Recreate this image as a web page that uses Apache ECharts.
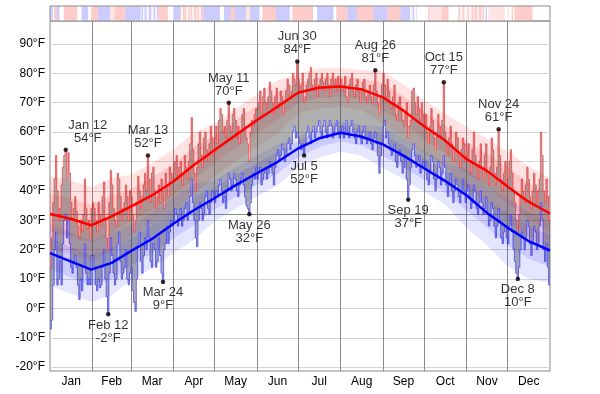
<!DOCTYPE html>
<html><head><meta charset="utf-8">
<script src="https://cdn.jsdelivr.net/npm/echarts@6/dist/echarts.min.js"></script>
<style>html,body{margin:0;padding:0;background:#fff}#c{width:600px;height:394px}</style>
</head><body><div id="c"></div>
<script>
const months = ['Jan','Feb','Mar','Apr','May','Jun','Jul','Aug','Sep','Oct','Nov','Dec'];
const monthStarts = [0,31,59,90,120,151,181,212,243,273,304,334,365];
const monthMids = [15.5,45,74.5,105,135.5,166,196.5,227.5,258,288.5,319,349.5];
const yTicks = [-20,-10,0,10,20,30,40,50,60,70,80,90];
const freezing = 32;

// daily highs / lows (°F)
const highJan = [14,24,36,44,52,40,30,34,42,48,52,54,44,53,46,36,30,34,38,33,28,24,30,26,32,44,34,27,30,24,34];
const lowJan  = [-7,-4,8,20,26,8,10,16,8,22,30,32,24,30,22,14,12,16,18,14,8,3,10,6,14,22,12,8,10,8,18];
const highFeb = [36,34,30,26,36,32,28,38,43,30,24,20,36,47,42,34,30,28,46,44,38,30,34,36,42,38,30,40];
const lowFeb  = [18,14,8,6,10,7,8,14,20,10,4,-2,12,24,18,12,8,10,22,26,16,10,12,14,20,10,8,12];
const highMar = [38,32,26,30,36,45,40,34,38,42,46,40,52,44,36,46,48,40,34,38,42,36,44,40,34,46,42,38,48,46,44];
const lowMar  = [14,6,2,-1,10,22,26,16,12,18,24,20,30,24,16,14,22,20,14,16,24,18,12,9,20,22,28,22,26,30,28];
const highApr = [46,50,52,44,48,50,42,46,52,48,44,50,56,65,54,46,40,48,56,60,52,48,58,60,54,50,56,62,58,52];
const lowApr  = [30,34,32,28,30,34,28,30,34,36,30,32,38,44,36,30,24,21,30,36,34,30,32,38,40,34,32,36,40,38];
const highMay = [58,62,56,64,68,66,60,62,58,64,70,62,60,66,68,64,58,62,56,60,66,68,62,58,56,50,60,64,62,66,68];
const lowMay  = [36,40,38,42,44,40,36,38,34,40,46,44,40,42,46,44,40,38,42,44,46,42,38,35,34,32,36,42,46,44,48];
const highJun = [68,70,74,66,72,75,70,68,72,77,74,70,66,72,75,68,70,74,72,66,70,74,78,76,72,74,80,78,76,84];
const lowJun  = [44,46,48,42,44,46,48,44,46,50,48,46,42,48,52,54,50,52,56,54,50,52,56,58,54,56,60,62,58,60];
const highJul = [78,74,76,80,70,72,76,78,80,82,76,74,78,80,72,76,78,80,77,74,78,80,76,72,78,80,76,78,74,79,76];
const lowJul  = [58,56,54,56,52,56,60,62,58,56,60,62,58,60,62,64,60,58,62,64,60,58,62,64,62,58,60,62,64,60,58];
const highAug = [78,74,76,79,72,70,76,78,80,74,72,76,78,74,70,74,77,78,72,70,74,76,72,70,76,81,74,70,66,72,76];
const lowAug  = [60,62,58,60,64,60,58,62,64,60,58,56,60,62,58,56,60,62,58,56,58,60,56,54,58,60,56,52,46,52,56];
const highSep = [80,76,72,78,74,70,68,72,76,66,64,70,72,68,64,62,66,70,58,62,64,74,75,70,66,72,68,64,70,66];
const lowSep  = [62,64,58,60,56,54,52,54,56,50,48,52,54,50,46,48,52,44,37,42,48,54,56,52,48,50,52,46,48,50];
const highOct = [62,66,60,56,62,68,64,58,54,60,66,62,58,64,77,60,56,52,58,62,56,50,54,60,58,52,48,54,58,56,50];
const lowOct  = [48,50,44,42,46,52,50,44,40,44,50,48,42,46,52,48,42,38,42,46,40,36,40,44,42,38,36,40,44,40,36];
const highNov = [52,56,50,46,54,60,52,48,44,50,56,48,44,52,56,46,42,48,58,54,46,42,48,61,52,44,40,46,50,42];
const lowNov  = [40,42,38,34,36,42,40,34,32,36,40,36,32,34,38,32,28,30,36,34,28,24,28,34,30,24,22,26,28,24];
const highDec = [44,50,54,46,40,36,30,26,32,38,44,40,36,42,48,44,38,34,40,46,42,36,40,44,60,52,40,36,44,38,30];
const lowDec  = [22,28,32,26,20,16,12,10,14,20,26,24,20,24,30,28,22,18,22,28,26,20,22,28,36,30,20,16,22,14,8];

// normals and percentile bands, sampled days
const bandDays   = [0,15,30,45,59,75,90,105,120,135,151,166,181,196,212,227,243,258,273,288,304,319,334,349,365];
const normalHigh = [32.1,30.5,28.3,31.3,34.6,38.6,43.2,48.8,53.8,58.8,64.0,68.6,73.4,75.1,75.5,74.6,71.8,67.3,62.0,57.3,50.8,46.8,41.5,36.4,32.3];
const normalLow  = [18.8,16.0,13.2,15.5,19.5,23.8,28.8,33.4,37.5,41.8,46.0,49.8,54.4,57.8,59.8,58.5,55.8,52.0,47.7,43.5,38.5,32.5,27.5,23.0,19.7];
const highP90 = [45.1,43.5,41.3,44.3,45.6,49.6,54.2,59.8,62.8,67.8,73.0,77.6,79.9,81.6,82.0,81.1,80.8,76.3,71.0,66.3,61.8,57.8,53.5,48.4,44.3];
const highP75 = [39.1,37.5,35.3,38.3,40.6,44.6,49.2,54.8,58.8,63.8,69.0,73.6,76.9,78.6,79.0,78.1,76.8,72.3,67.0,62.3,56.8,52.8,48.0,42.9,38.3];
const highP25 = [26.1,24.5,22.3,25.3,29.6,33.6,38.2,43.8,49.3,54.3,59.5,64.1,69.9,71.6,72.0,71.1,67.3,62.8,57.5,52.8,45.8,41.8,35.5,30.4,26.3];
const highP10 = [20.1,18.5,16.3,19.3,24.6,28.6,33.2,38.8,44.8,49.8,55.0,59.6,66.4,68.1,68.5,67.6,62.8,58.3,53.0,48.3,40.8,36.8,29.5,24.4,20.3];
const lowP90  = [28.8,26.0,23.2,25.5,28.5,32.8,37.8,42.4,43.5,47.8,52.0,55.8,58.4,61.8,63.8,62.5,61.8,58.0,53.7,49.5,47.5,41.5,37.5,33.0,29.7];
const lowP75  = [23.8,21.0,18.2,20.5,24.0,28.3,33.3,37.9,41.0,45.3,49.5,53.3,56.9,60.3,62.3,61.0,59.3,55.5,51.2,47.0,43.0,37.0,32.5,28.0,24.7];
const lowP25  = [13.3,10.5,7.7,10.0,14.5,18.8,23.8,28.4,33.5,37.8,42.0,45.8,51.4,54.8,56.8,55.5,51.8,48.0,43.7,39.5,33.5,27.5,21.5,17.0,14.2];
const lowP10  = [7.8,5.0,2.2,4.5,9.5,13.8,18.8,23.4,29.5,33.8,38.0,41.8,47.9,51.3,53.3,52.0,47.8,44.0,39.7,35.5,27.5,21.5,14.5,10.0,8.7];

// annotated extremes
const annDays  = [11,42,71,82,130,145,180,185,237,261,287,327,341];
const annTemps = [54,-2,52,9,70,32,84,52,81,37,77,61,10];
const annNames = ['Jan 12','Feb 12','Mar 13','Mar 24','May 11','May 26','Jun 30','Jul 5','Aug 26','Sep 19','Oct 15','Nov 24','Dec 8'];
const annKind  = ['high','low','high','low','high','low','high','low','high','low','high','high','low'];

// top strip, read as runs of days: r = warm, p = slightly warm, w = neutral, q = slightly cool, b = cool
const stripCodes = ['b','w','r','b','w','r','w','b','w','r','b','p','r','b','q','b','w','b','q','w','b','b','w','q','b','w','b','r','w','b',
  'r','w','r','r','p','w','r','p','r','w','r','r','p','r','w',
  'r','b','w','b','r','b','p','b','w','r','b','w','r','w','b','w','r','b','r','b','r',
  'b','w','q','b','w','q','w','w','r','p','r','w','r','p','w','r','p','w','p','r','w','p',
  'r','p','r','r','w','r','r','p','r','w','b','w','p','w','w','p','w','w','r','w','r'];
const stripDays  = [2,1,2,2,3,10,3,5,2,5,9,3,8,11,1,1,1,1,1,1,1,1,1,1,1,1,1,7,4,5,
  1,1,1,1,1,1,1,1,1,1,1,1,1,1,1,
  2,12,3,5,3,8,3,7,2,10,10,2,15,3,12,2,8,7,12,10,10,
  7,1,1,1,1,1,1,7,1,9,5,7,1,1,1,1,1,1,1,1,1,1,1,1,
  1,1,1,1,1,1,1,1,1,1,12,1,1,1,1,1,1,1,13,5,7];
const stripColors = {r:'#ffcccc', p:'#ffe4e4', w:'#ffffff', q:'#e4e4ff', b:'#ccccff'};

const highs = [].concat(highJan,highFeb,highMar,highApr,highMay,highJun,highJul,highAug,highSep,highOct,highNov,highDec);
const lows  = [].concat(lowJan,lowFeb,lowMar,lowApr,lowMay,lowJun,lowJul,lowAug,lowSep,lowOct,lowNov,lowDec);

const stripRuns = []; let acc = 0;
stripCodes.forEach((c,i)=>{ stripRuns.push([acc, acc+stripDays[i], c]); acc += stripDays[i]; });

const pair = (xs, ys) => xs.map((x,i)=>[x, ys[i]]);
const stepPts = (vals) => { const p=[]; vals.forEach((v,i)=>{ p.push([i,v]); p.push([i+1,v]); }); return p; };

function bandSeries(top, bottom, color){
  const pts = pair(bandDays, top).concat(pair(bandDays, bottom).reverse());
  return {type:'custom', clip:true, silent:true, z:2, data:[[0]],
    renderItem:(params, api)=>({type:'polygon', shape:{points:pts.map(p=>api.coord(p))}, style:{fill:color}})};
}

const FONT = '"Liberation Sans", Arial, Helvetica, sans-serif';
const chart = echarts.init(document.getElementById('c'), null, {renderer:'canvas'});

const gridLines = yTicks.map(v=>({yAxis:v, lineStyle:{color:'#d4d4d4', width:1, type:'solid'}}))
  .concat([{yAxis:freezing, lineStyle:{color:'#8c8c8c', width:1, type:'solid'}}])
  .concat(monthStarts.slice(1,12).map(d=>({xAxis:d, lineStyle:{color:'#8c8c8c', width:1, type:'solid'}})));

const highStep = stepPts(highs), lowStep = stepPts(lows);
const rangePoly = highStep.concat(lowStep.slice().reverse());

const series = [];
series.push({type:'line', data:[[0,-50],[365,-50]], symbol:'none', lineStyle:{opacity:0}, z:1, silent:true,
  markLine:{silent:true, symbol:['none','none'], label:{show:false}, z:1, animation:false, data:gridLines}});
series.push(bandSeries(highP90, highP10, 'rgba(255,0,0,0.11)'));
series.push(bandSeries(highP75, highP25, 'rgba(255,0,0,0.12)'));
series.push(bandSeries(lowP90, lowP10, 'rgba(0,0,255,0.10)'));
series.push(bandSeries(lowP75, lowP25, 'rgba(0,0,255,0.11)'));
series.push({type:'custom', clip:true, silent:true, z:3, data:[[0]],
  renderItem:(params, api)=>({type:'group', children:[
    {type:'polygon', shape:{points:rangePoly.map(p=>api.coord(p))}, style:{fill:'rgba(80,80,80,0.45)'}},
    {type:'polyline', shape:{points:lowStep.map(p=>api.coord(p))}, style:{fill:null, stroke:'rgba(30,30,255,0.6)', lineWidth:1}},
    {type:'polyline', shape:{points:highStep.map(p=>api.coord(p))}, style:{fill:null, stroke:'rgba(255,30,30,0.6)', lineWidth:1}}
  ]})});
series.push({type:'line', data:pair(bandDays, normalHigh), symbol:'none', lineStyle:{width:2.5,color:'#ff0000'}, z:4, silent:true});
series.push({type:'line', data:pair(bandDays, normalLow), symbol:'none', lineStyle:{width:2.5,color:'#0000ff'}, z:4, silent:true});
series.push({type:'scatter', symbolSize:4.5, itemStyle:{color:'#000'}, z:6, silent:true,
  data: annDays.map((d,i)=>({value:[d+0.5, annTemps[i]],
    label:{show:true, position: annKind[i]==='high'?'top':'bottom', distance: annKind[i]==='high'?3:2,
      offset: i===0?[22,0]:[0,0],
      formatter: annNames[i]+'\n'+annTemps[i]+'°F', color:'#000', fontSize:13, lineHeight:13, fontFamily:FONT, align:'center'}}))});
series.push({type:'custom', xAxisIndex:1, yAxisIndex:1, silent:true, data: stripRuns.map((r,i)=>[r[0], r[1], i]),
  renderItem:(params, api)=>{ const r = stripRuns[api.value(2)]; const p0=api.coord([r[0],1]); const p1=api.coord([r[1],0]);
    return {type:'rect', shape:{x:p0[0], y:p0[1], width:p1[0]-p0[0]+0.3, height:p1[1]-p0[1]}, style:{fill:stripColors[r[2]]}}; }});

chart.setOption({
  animation:false,
  backgroundColor:'#fff',
  grid:[
    {left:50, top:21, width:500, height:350, show:true, borderColor:'#8c8c8c', borderWidth:1, backgroundColor:'transparent'},
    {left:50, top:6, width:500, height:15, show:true, borderColor:'#8c8c8c', borderWidth:1, backgroundColor:'transparent', z:10}
  ],
  xAxis:[
    {type:'value', gridIndex:0, min:0, max:365, axisLine:{show:false}, axisTick:{show:false}, splitLine:{show:false},
      axisLabel:{customValues:monthMids, formatter:(v)=>months[monthMids.indexOf(v)], color:'#000', fontSize:12, fontFamily:FONT, margin:5}},
    {type:'value', gridIndex:1, min:0, max:365, show:false}
  ],
  yAxis:[
    {type:'value', gridIndex:0, min:-21.3, max:97.8, axisLine:{show:false}, axisTick:{show:false}, splitLine:{show:false},
      axisLabel:{customValues:yTicks, formatter:(v)=>v+'°F', color:'#000', fontSize:12, fontFamily:FONT, margin:5}},
    {type:'value', gridIndex:1, min:0, max:1, show:false}
  ],
  series: series
});
</script></body></html>
